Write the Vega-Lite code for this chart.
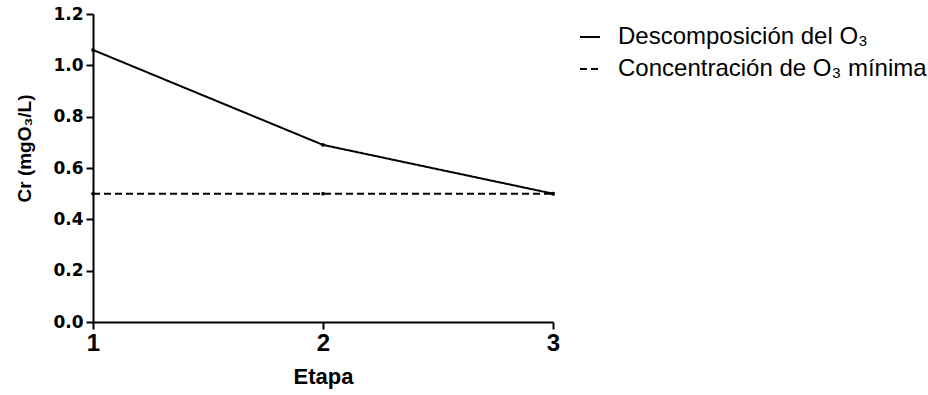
{
  "$schema": "https://vega.github.io/schema/vega-lite/v6.json",
  "width": 460,
  "height": 308,
  "autosize": {"type": "none"},
  "padding": {"left": 93, "top": 14, "right": 375, "bottom": 73},
  "background": "white",
  "config": {
    "view": {"stroke": null},
    "font": "Liberation Sans",
    "axis": {
      "domainColor": "black",
      "domainWidth": 2,
      "tickColor": "black",
      "tickWidth": 2,
      "tickSize": 7,
      "grid": false,
      "labelColor": "black",
      "labelFontWeight": "bold",
      "labelFlush": false,
      "labelOverlap": false,
      "titleColor": "black",
      "titleFontWeight": "bold"
    }
  },
  "data": {
    "values": [
      {"Etapa": 1, "Cr": 1.06, "Serie": "Descomposición del O₃"},
      {"Etapa": 2, "Cr": 0.69, "Serie": "Descomposición del O₃"},
      {"Etapa": 3, "Cr": 0.5, "Serie": "Descomposición del O₃"},
      {"Etapa": 1, "Cr": 0.5, "Serie": "Concentración de O₃ mínima"},
      {"Etapa": 2, "Cr": 0.5, "Serie": "Concentración de O₃ mínima"},
      {"Etapa": 3, "Cr": 0.5, "Serie": "Concentración de O₃ mínima"}
    ]
  },
  "mark": {
    "type": "line",
    "strokeWidth": 2,
    "point": {"filled": true, "color": "black", "size": 14}
  },
  "encoding": {
    "x": {
      "field": "Etapa",
      "type": "ordinal",
      "scale": {"type": "point", "padding": 0},
      "axis": {
        "labelAngle": 0,
        "title": "Etapa",
        "labelFont": "Liberation Sans",
        "labelFontSize": 24,
        "labelPadding": 2,
        "titleFont": "Liberation Sans",
        "titleFontSize": 22,
        "titlePadding": 11
      }
    },
    "y": {
      "field": "Cr",
      "type": "quantitative",
      "scale": {"domain": [0, 1.2], "nice": false},
      "axis": {
        "values": [0, 0.2, 0.4, 0.6, 0.8, 1.0, 1.2],
        "format": ".1f",
        "title": "Cr (mgO₃/L)",
        "labelFont": "DejaVu Sans",
        "labelFontSize": 17,
        "labelPadding": 3,
        "titleFont": "Liberation Sans",
        "titleFontSize": 19,
        "titleBaseline": "middle",
        "titleAlign": "center",
        "titleX": -69,
        "titleY": 134
      }
    },
    "color": {
      "field": "Serie",
      "type": "nominal",
      "scale": {
        "domain": ["Descomposición del O₃", "Concentración de O₃ mínima"],
        "range": ["black", "black"]
      },
      "legend": {
        "title": null,
        "orient": "none",
        "legendX": 485,
        "legendY": 11,
        "symbolType": "stroke",
        "symbolStrokeWidth": 2,
        "symbolSize": 400,
        "labelFont": "Liberation Sans",
        "labelFontSize": 24,
        "labelColor": "black",
        "labelOffset": 16,
        "rowPadding": 8,
        "labelLimit": 400
      }
    },
    "strokeDash": {
      "field": "Serie",
      "type": "nominal",
      "scale": {
        "domain": ["Descomposición del O₃", "Concentración de O₃ mínima"],
        "range": [[1, 0], [7, 4]]
      },
      "legend": {
        "title": null,
        "orient": "none",
        "legendX": 485,
        "legendY": 11,
        "symbolType": "stroke",
        "symbolStrokeWidth": 2,
        "symbolSize": 400,
        "labelFont": "Liberation Sans",
        "labelFontSize": 24,
        "labelColor": "black",
        "labelOffset": 16,
        "rowPadding": 8,
        "labelLimit": 400
      }
    }
  }
}
